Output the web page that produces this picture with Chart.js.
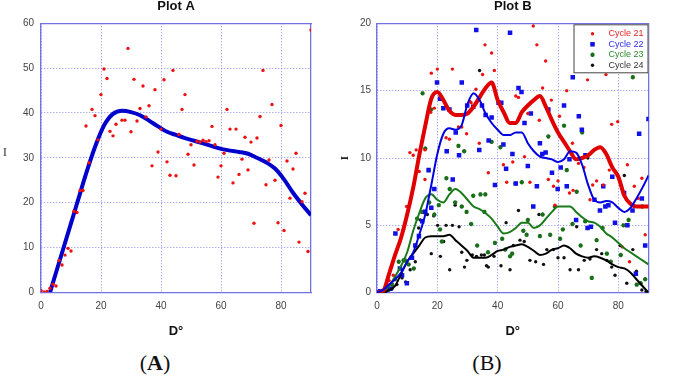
<!DOCTYPE html>
<html>
<head>
<meta charset="utf-8">
<script src="https://cdn.jsdelivr.net/npm/chart.js@4.4.1/dist/chart.umd.min.js"></script>
<style>
body { margin: 0; background: #fff; }
#wrap { position: relative; width: 685px; height: 377px; overflow: hidden; background: #fff; }
canvas { position: absolute; top: 0; }
#chartA { left: 0; }
#chartB { left: 340px; }
.panel { position: absolute; top: 351px; width: 80px; text-align: center; font-family: "Liberation Serif", serif; font-size: 22px; line-height: 24px; color: #111; }
</style>
</head>
<body>
<div id="wrap">
  <canvas id="chartA" width="340" height="345"></canvas>
  <canvas id="chartB" width="345" height="345"></canvas>
  <div class="panel" style="left:115px">(<b>A</b>)</div>
  <div class="panel" style="left:447px">(B)</div>
</div>
<script>
// ---- Plot A: measured points + fitted curve ----
const angleA = [0,1,2,3,4,5,6,7,8,9,10,11,12,13,14,15,16,17,18,19,20,21,22,23,24,25,27,28,29,30,31,32,33,34,35,36,37,38,39,40,41,42,43,44,45,46,47,48,49,50,51,52,53,54,55,56,57,58,59,60,61,62,63,64,65,66,67,68,69,70,71,72,73,74,75,76,77,78,79,80,81,82,83,84,85,86,87,88,89,90];
const intensityA = [0.4,0.1,0.2,0.9,1.8,1.4,7.1,6.1,8.3,9.8,9.2,18.1,17.8,22.7,22.7,37.1,28.9,40.8,39.4,34,44.1,49.8,47.7,35.9,34.9,37.5,38.4,38.4,54.4,35.8,47.5,38.2,41,46,39.1,41.6,28.2,45.2,31.3,36.4,47.4,29.1,26.1,49.5,26,35.2,40.8,44.1,30.8,32.9,28.4,33.7,33.5,33.9,33.6,33.8,37,32.9,25.7,28.2,31,40.8,36.4,24.4,36.4,26.3,29.7,34.6,27.3,33.5,15.4,34.4,39.2,49.5,24,29.5,41.9,25,15.5,37.2,13.8,29.3,21,27.5,31,11.2,20.2,22.1,9.1,58.5];
const fitAngleA = [3,6,9,12,15,18,21,24,27,30,33,36,39,42,45,48,51,54,57,60,63,66,69,72,75,78,81,84,87,90];
const fitA = [0,6.6,13.2,19.8,26.4,32.4,37.2,39.8,40.5,40.2,39.5,38.3,37,35.8,35.1,34.4,33.8,33.2,32.6,32,31.6,31.3,30.9,30,29,27.6,25.2,22.2,19.6,17.2];

// ---- Plot B: four cycles, points + fitted curves ----
const angle21 = [0,1,2,3,4,5.4,7,8.8,9.8,10.9,12,13,14,14.4,15.9,15.9,17.8,18,19,20,22.9,24,25,27,28.1,29.7,30.8,31.2,32.8,33.9,35,35.8,36.9,38,38.9,41.9,43,45,46,46.9,48.9,50,50.7,51.8,53,53.8,54.9,55.9,56.8,57.8,58.5,59,60,60.5,62.9,63.8,64.8,65,66.8,68.6,69.8,70.6,71.5,72.8,75,75.9,77,77.8,79.8,81.3,83,83.7,85.3,86.6,87.8,88.9,90];
const value21 = [0,0.1,0.2,0.5,0.9,1.3,4.7,4.7,6.4,10.4,10.2,10.6,9,10.6,8.4,10.6,13.4,16.3,13.7,16.6,11.5,11.4,16.6,12.3,12.3,11.8,14.2,14.1,15.1,11.1,16.2,18.4,8.9,17.8,16.5,9.5,8.2,9.7,14.6,14.5,10.1,13.3,8.2,19.8,18.4,12.8,15.2,17.2,8.4,14.3,7.9,6.5,8.3,13.1,15,7.4,11.1,7.6,9.6,9.3,15.8,6.9,8,8.3,8,16.2,9.1,12.5,12.7,3.4,9.5,2.3,7.9,7,8.5,4.3,6.4];
const angle22 = [0,1,2,3.4,4.5,6.1,7.6,8.3,9.9,11.6,12.7,13.9,15,16,17.1,18,19,19.9,20.9,22,23.1,24,25.1,26.1,27.2,28.1,29.9,31.9,32.9,33.9,34.8,36,37,38,39.1,40.3,41.2,41.9,42.8,44.1,44.9,46,46.9,47.9,48.9,50,51,51.8,53,54,54.8,55.9,56.8,58,59.9,60.9,62,62.9,63.8,64.9,66,66.9,67.9,69.1,69.8,70.9,72.1,73.9,75,75.7,76.7,78,78.9,81.9,83,84.7,85.8,86.9,87.8,88.9,90];
const value22 = [0,0.1,0.1,0.4,0.3,4.4,1.8,1.3,0.7,2.6,3.5,4.2,5.3,6,9.1,6.3,7.7,15.6,14.4,13.7,10.5,13.6,8.4,11.9,10.2,15.6,13.9,13.8,19.5,10.6,13.9,13.2,11.3,13,8,14.1,14.1,11,9.2,19.3,10.3,8.1,15.2,14.9,12.6,9.4,13.3,6.4,7.9,11.1,10.3,10.4,13.6,8.9,7.7,9.3,13.9,7.9,9.9,16,5.4,13.1,12.1,10.2,4.8,4.9,6.9,6.1,7.9,6.4,6.5,8.6,5.2,7.4,5,6.1,1.4,11.8,7,3.5,12.9];
const angle23 = [0,1,2,3,4,5,6,7.2,8.8,9.3,10.5,12.2,13.3,14.9,15.1,16,17.3,17.9,19,20.5,20.9,21.5,23,24.1,25.9,27,28.1,28.9,29.7,31.2,31.9,33.2,34.3,35.6,35.9,36.8,38,39.1,40.9,41.5,42.5,44.1,44.8,45.9,48,48.5,49.6,50,54,54.9,56.8,57.4,59,60.7,61.6,62,62.9,64.8,66.2,67.5,68,69,71.2,72.8,74.8,76.2,77.5,80.8,81.7,83.4,84.8,86.1,87.4,87.9,88.9,90];
const value23 = [0,0,0.1,0.2,0.3,0.6,1,2.3,2.4,2.4,2.1,1.8,5.5,6,14.8,10.7,6.7,13.6,5.8,6.5,4.7,3.8,8.5,7.7,6.7,10.9,6.4,10.5,6,5.1,7.2,3.5,7.3,6,7.3,3,11.2,3.7,10.8,4,3.2,2.7,2.9,8.1,8.2,4.6,4.3,5.4,4.2,5.8,11.6,4.3,6.4,4,4.7,12.4,9.1,5.1,7.5,3.5,11.9,5.3,1.1,3.9,4.8,2.9,2.3,2.8,5,5.4,16,0.6,0.7,6.4,1,17.1];
const angle24 = [0,1,2,3,4,5,6.6,8.3,9.5,11,12.7,13.8,14.4,16.7,18,18.8,20.1,21,22.1,22.9,24.1,25,25.9,27.2,28.1,29,29.8,31.6,33,34,34.6,35.6,36.3,36.9,38.8,41.1,42.8,44.1,45.2,46.9,47.4,48.8,50.7,52.6,53.7,55.2,56.3,58.5,60,62,64,66.2,66.8,68.7,69.9,70.6,72.8,74.5,76.2,77.8,78.9,80.6,82,82.8,84.8,86,87.8,89.2];
const value24 = [0,0,0,0.1,0.2,0.3,0.6,1.1,0.8,1.7,2.3,4.8,5.4,5.8,2.9,5.7,5,2.7,3.8,5,1.7,5,6.5,4.9,3,1.9,2.4,2.8,2.7,16.5,2.8,2.8,2,1.9,2.7,2,5.2,1.7,3.5,6.1,3.9,3.8,2.4,2.3,5.8,2.1,3.2,3.2,2.6,2.6,1.7,4.9,1.7,2.4,10,2.5,3.2,2.9,2.4,1.9,1.3,3.5,8.7,0.7,3.2,1.6,0.2,0.1];

const fitAngleB = [0,2,4,6,8,10,12,14,16,18,20,22,24,26,28,30,32,34,36,38,40,42,44,46,48,50,52,54,56,58,60,62,64,66,68,70,72,74,76,78,80,82,84,86,88,90];
const fit21 = [0,0.1,1.4,2.8,4.1,5.8,7.8,10.2,12.4,14.4,14.9,14.3,13.5,13.2,13.2,13.3,13.8,14.5,15.2,15.6,14.3,13.4,12.6,12.6,13.4,13.9,14.3,14.6,13.8,12.8,11.9,11.2,10.5,9.9,10,10.2,10.6,10.8,10.3,9.3,8.6,7.2,6.6,6.4,6.4,6.4];
const fit22 = [0,0.2,0.6,1.0,1.5,2.3,3.0,4.3,5.8,8.0,10.3,11.8,12.2,12.1,12.4,14.0,14.8,14.3,13.3,12.6,12.1,11.7,11.7,11.9,11.9,11.1,10.5,10.1,10.0,9.9,9.7,9.9,10.5,10.4,9.5,8.0,6.9,6.7,6.8,6.7,6.3,6.0,6.3,7.0,7.8,8.7];
const fit23 = [0,0.1,0.5,1.2,2.0,3.0,4.6,5.9,7.0,7.3,6.9,6.7,7.3,7.7,7.4,6.9,6.4,6.2,5.9,5.5,4.9,4.4,4.5,4.8,5.2,5.2,4.8,5.0,5.5,6.0,6.4,6.4,6.4,6.0,5.6,5.3,5.2,4.9,4.4,4.1,3.7,3.3,3.0,2.7,2.4,2.1];
const fit24 = [0,0,0.2,0.5,1.4,2.3,2.9,3.5,4.1,4.2,4.2,4.2,4.3,3.9,3.5,3.1,2.6,2.6,2.6,2.8,3.1,3.2,3.4,3.5,3.6,3.4,3.1,2.8,2.9,3.2,3.3,3.5,3.3,2.9,2.7,2.6,2.7,2.6,2.4,2.1,1.9,1.8,1.5,1.0,0.5,0];

// tick labels
const xTicks = [0, 20, 40, 60, 80];
const yTicksA = [0, 10, 20, 30, 40, 50, 60];
const yTicksB = [0, 5, 10, 15, 20];

Chart.defaults.font.family = "Liberation Sans";
Chart.defaults.animation = false;

const frameColor = "#7272e6";
const gridColor = "rgba(105,105,235,0.8)";
const tickColor = "#444";
const tickFont = { family: "Liberation Sans", size: 10 };

const pts = (xs, ys) => xs.map((x, i) => ({ x: x, y: ys[i] }));

function mainX(height) {
    return {
        type: "linear", min: 0, max: 90,
        afterBuildTicks: s => { s.ticks = xTicks.map(v => ({ value: v })); },
        afterFit: s => { s.height = height; },
        ticks: { font: tickFont, color: tickColor, padding: 8, maxRotation: 0 },
        grid: { color: gridColor, lineWidth: 1, drawTicks: false },
        border: { color: frameColor, width: 1.3, dash: [1, 2] },
        title: { display: true, text: "D°", color: "#111", font: { family: "Liberation Sans", size: 13, weight: "bold" }, padding: { top: 0, bottom: 6 } }
    };
}

function mainY(max, list, width, pad) {
    return {
        type: "linear", min: 0, max: max,
        afterBuildTicks: s => { s.ticks = list.map(v => ({ value: v })); },
        afterFit: s => { s.width = width; },
        ticks: { font: tickFont, color: tickColor, padding: pad },
        grid: { color: gridColor, lineWidth: 1, drawTicks: false },
        border: { color: frameColor, width: 1.3, dash: [1, 2] }
    };
}

// top / right axes only to close the box
function frameAxis(pos, max) {
    return {
        type: "linear", position: pos, min: 0, max: max,
        ticks: { display: false },
        grid: { display: true, drawOnChartArea: false, drawTicks: false },
        border: { display: true, color: frameColor, width: 1.3 },
        afterFit: s => { if (s.isHorizontal()) s.height = 0; else s.width = 0; }
    };
}

function titleOpts(text) {
    return {
        display: true, text: text, fullSize: false, color: "#111",
        font: { family: "Liberation Sans", size: 13, weight: "bold", lineHeight: 1 },
        padding: { top: 0, bottom: 10.3 }
    };
}

// upright "I" left of plot A
const yLabelA = {
    id: "yLabelA",
    afterDraw(chart) {
        const ctx = chart.ctx;
        const area = chart.chartArea;
        ctx.save();
        ctx.font = "13px 'Liberation Serif'";
        ctx.fillStyle = "#444";
        ctx.textAlign = "center";
        ctx.textBaseline = "middle";
        ctx.fillText("I", 5, (area.top + area.bottom) / 2 - 5);
        ctx.restore();
    }
};

// boxed legend in the top right corner of plot B
const legendBox = {
    id: "legendBox",
    afterDraw(chart) {
        const ctx = chart.ctx;
        const area = chart.chartArea;
        const sets = chart.data.datasets.filter(d => !d.showLine);
        const w = 75, h = 49;
        const left = area.right - w, top = area.top + 1;
        ctx.save();
        ctx.fillStyle = "#fff";
        ctx.fillRect(left, top, w, h);
        ctx.strokeStyle = "#444";
        ctx.lineWidth = 1;
        ctx.strokeRect(left + 0.5, top + 0.5, w - 1, h - 1);
        ctx.font = "9px 'Liberation Sans'";
        ctx.textBaseline = "middle";
        sets.forEach((d, i) => {
            const y = top + 9.5 + i * 10.5;
            ctx.fillStyle = d.pointBackgroundColor;
            ctx.strokeStyle = d.pointBorderColor;
            ctx.lineWidth = d.pointBorderWidth;
            Chart.helpers.drawPoint(ctx, { pointStyle: d.pointStyle, radius: d.pointRadius, borderWidth: d.pointBorderWidth, rotation: 0 }, left + 19, y);
            ctx.fillStyle = d.textColor;
            ctx.fillText(d.label, left + 35, y);
        });
        ctx.restore();
    }
};

// ---- chart A ----
new Chart(document.getElementById("chartA"), {
    type: "scatter",
    data: {
        datasets: [
            { label: "Measured", data: pts(angleA, intensityA), showLine: false, pointStyle: "circle", pointRadius: 1.7, pointBackgroundColor: "#ee1111", pointBorderColor: "#ee1111", pointBorderWidth: 0 },
            { label: "Fit", data: pts(fitAngleA, fitA), showLine: true, borderColor: "#0000cc", borderWidth: 4, pointRadius: 0, cubicInterpolationMode: "monotone", fill: false }
        ]
    },
    options: {
        responsive: false,
        events: [],
        layout: { padding: { top: 0, right: 29, bottom: 0, left: 0 } },
        scales: { x: mainX(52.7), y: mainY(60, yTicksA, 41, 7), x2: frameAxis("top", 90), y2: frameAxis("right", 60) },
        plugins: { title: titleOpts("Plot A"), legend: { display: false }, tooltip: { enabled: false } }
    },
    plugins: [yLabelA]
});

// ---- chart B ----
const yB = mainY(20, yTicksB, 37, 6);
yB.title = { display: true, text: "I", color: "#222", font: { family: "Liberation Serif", size: 11, weight: "bold", lineHeight: 1 }, padding: 0 };

function curve(label, ys, color, width) {
    return { label: label, data: pts(fitAngleB, ys), showLine: true, borderColor: color, borderWidth: width, pointRadius: 0, cubicInterpolationMode: "monotone", fill: false };
}

new Chart(document.getElementById("chartB"), {
    type: "scatter",
    data: {
        datasets: [
            curve("Fit 22", fit22, "#0000e0", 2),
            curve("Fit 21", fit21, "#e00000", 4),
            curve("Fit 23", fit23, "#1a7a1a", 2),
            curve("Fit 24", fit24, "#000000", 2),
            { label: "Cycle 21", data: pts(angle21, value21), showLine: false, pointStyle: "circle", pointRadius: 1.7, pointBackgroundColor: "#ee1111", pointBorderColor: "#ee1111", pointBorderWidth: 0, textColor: "#ee2222" },
            { label: "Cycle 22", data: pts(angle22, value22), showLine: false, pointStyle: "rect", pointRadius: 3.2, pointBackgroundColor: "#1010e8", pointBorderColor: "#1010e8", pointBorderWidth: 0, textColor: "#2a2aee" },
            { label: "Cycle 23", data: pts(angle23, value23), showLine: false, pointStyle: "star", pointRadius: 2.2, pointBackgroundColor: "#1a6e1a", pointBorderColor: "#1a6e1a", pointBorderWidth: 1.3, textColor: "#2a8a2a" },
            { label: "Cycle 24", data: pts(angle24, value24), showLine: false, pointStyle: "circle", pointRadius: 1.7, pointBackgroundColor: "#111111", pointBorderColor: "#111111", pointBorderWidth: 0, textColor: "#333333" }
        ]
    },
    options: {
        responsive: false,
        events: [],
        layout: { padding: { top: 0, right: 36.5, bottom: 0, left: 0 } },
        scales: { x: mainX(52.3), y: yB, x2: frameAxis("top", 90), y2: frameAxis("right", 20) },
        plugins: { title: titleOpts("Plot B"), legend: { display: false }, tooltip: { enabled: false } }
    },
    plugins: [legendBox]
});
</script>
</body>
</html>
